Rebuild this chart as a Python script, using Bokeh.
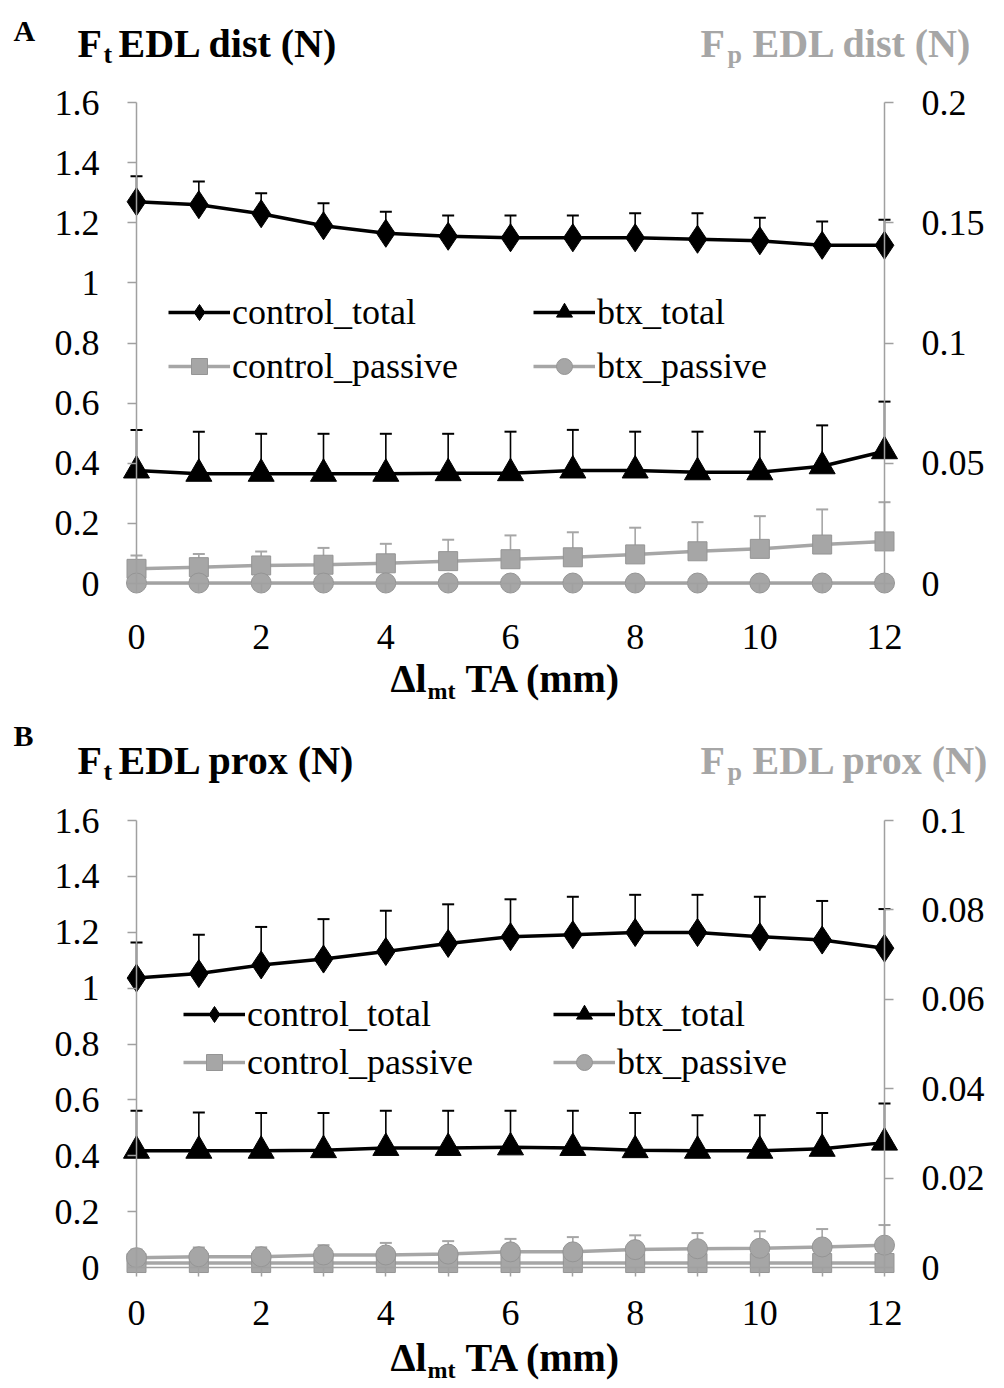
from bokeh.plotting import figure
from bokeh.models import (Range1d, LinearAxis, Whisker, ColumnDataSource, Label,
                          Legend, LegendItem, FixedTicker, TeeHead)
from bokeh.core.properties import value
from bokeh.layouts import column
from bokeh.embed import file_html
from bokeh.resources import INLINE

# ---------------- data ----------------
x_mm = [0, 1, 2, 3, 4, 5, 6, 7, 8, 9, 10, 11, 12]
x_major_ticks = [0, 2, 4, 6, 8, 10, 12]
x_minor_ticks = [1, 3, 5, 7, 9, 11]
left_ticks = [0, 0.2, 0.4, 0.6, 0.8, 1, 1.2, 1.4, 1.6]
left_tick_labels = ["0", "0.2", "0.4", "0.6", "0.8", "1", "1.2", "1.4", "1.6"]
A_right_ticks = [0, 0.05, 0.1, 0.15, 0.2]
A_right_tick_labels = ["0", "0.05", "0.1", "0.15", "0.2"]
B_right_ticks = [0, 0.02, 0.04, 0.06, 0.08, 0.1]
B_right_tick_labels = ["0", "0.02", "0.04", "0.06", "0.08", "0.1"]
series_names = ["control_total", "btx_total", "control_passive", "btx_passive"]

# Panel A (EDL dist)
A_control_total = [1.27, 1.26, 1.23, 1.19, 1.165, 1.155, 1.15, 1.15, 1.15, 1.145, 1.14, 1.125, 1.125]
A_control_total_sd = [0.085, 0.077, 0.068, 0.075, 0.072, 0.069, 0.074, 0.074, 0.082, 0.087, 0.077, 0.079, 0.085]
A_btx_total = [0.376, 0.365, 0.365, 0.365, 0.365, 0.367, 0.367, 0.376, 0.376, 0.370, 0.370, 0.390, 0.440]
A_btx_total_sd = [0.135, 0.140, 0.133, 0.133, 0.133, 0.131, 0.138, 0.135, 0.129, 0.135, 0.135, 0.136, 0.165]
A_control_passive = [0.0061, 0.0068, 0.0075, 0.0078, 0.0084, 0.0093, 0.0101, 0.0109, 0.0121, 0.0134, 0.0144, 0.0162, 0.0175]
A_control_passive_sd = [0.0055, 0.0055, 0.0058, 0.0070, 0.0081, 0.0089, 0.0099, 0.0104, 0.0111, 0.0121, 0.0136, 0.0146, 0.0163]
A_btx_passive = [0.0002, 0.0002, 0.0002, 0.0002, 0.0002, 0.0002, 0.0002, 0.0002, 0.0002, 0.0002, 0.0002, 0.0002, 0.0002]
A_btx_passive_sd = [0.0002, 0.0002, 0.0002, 0.0002, 0.0002, 0.0002, 0.0002, 0.0002, 0.0002, 0.0002, 0.0002, 0.0002, 0.0002]

# Panel B (EDL prox)
B_control_total = [1.036, 1.052, 1.083, 1.104, 1.131, 1.160, 1.184, 1.191, 1.199, 1.199, 1.184, 1.172, 1.143]
B_control_total_sd = [0.127, 0.139, 0.136, 0.143, 0.146, 0.140, 0.134, 0.136, 0.135, 0.135, 0.143, 0.140, 0.140]
B_btx_total = [0.418, 0.418, 0.418, 0.420, 0.428, 0.428, 0.430, 0.428, 0.420, 0.418, 0.418, 0.425, 0.447]
B_btx_total_sd = [0.143, 0.137, 0.135, 0.133, 0.133, 0.133, 0.131, 0.133, 0.133, 0.127, 0.127, 0.128, 0.140]
B_control_passive = [0.0010, 0.0010, 0.0010, 0.0010, 0.0010, 0.0010, 0.0010, 0.0010, 0.0010, 0.0010, 0.0010, 0.0010, 0.0010]
B_control_passive_sd = [0.0004, 0.0004, 0.0004, 0.0004, 0.0004, 0.0004, 0.0004, 0.0004, 0.0004, 0.0004, 0.0004, 0.0004, 0.0004]
B_btx_passive = [0.0022, 0.0024, 0.0024, 0.0028, 0.0028, 0.0030, 0.0035, 0.0035, 0.0040, 0.0042, 0.0043, 0.0046, 0.0050]
B_btx_passive_sd = [0.0018, 0.0021, 0.0021, 0.0022, 0.0027, 0.0029, 0.0029, 0.0033, 0.0032, 0.0035, 0.0038, 0.0040, 0.0045]

# ---------------- style / geometry ----------------
SERIF = "Liberation Serif"
AXIS_GRAY = "#a0a0a0"
SERIES_GRAY = "#a6a6a6"
MARKER_EDGE_GRAY = "#959595"
TITLE_GRAY = "#a6a6a6"
FIG_W = 1004
X0_REF = 136.0        # pixel of x = 0
XPX = 748.0 / 12.0    # pixels per mm
XMIN = -X0_REF / XPX
XMAX = (FIG_W - X0_REF) / XPX

STYLES = {
    "control_total": dict(color="black", marker="diamond", size=28, fill="black", edge="black", right=False),
    "btx_total": dict(color="black", marker="triangle", size=26, fill="black", edge="black", right=False),
    "control_passive": dict(color=SERIES_GRAY, marker="square", size=19, fill=SERIES_GRAY, edge=MARKER_EDGE_GRAY, right=True),
    "btx_passive": dict(color=SERIES_GRAY, marker="circle", size=20, fill=SERIES_GRAY, edge=MARKER_EDGE_GRAY, right=True),
}


def style_axis(ax, standoff):
    ax.axis_line_color = AXIS_GRAY
    ax.axis_line_width = 1.5
    ax.major_tick_line_color = AXIS_GRAY
    ax.major_tick_line_width = 1.5
    ax.major_tick_in = 0
    ax.major_tick_out = 9
    ax.minor_tick_line_color = None
    ax.major_label_text_font = SERIF
    ax.major_label_text_font_size = "36px"
    ax.major_label_text_color = "black"
    ax.major_label_standoff = standoff


def build_panel(geo, data, right_max, right_ticks, right_labels, texts, legend_pos):
    H = geo["height"]
    top_ref = geo["offset"]
    ytop = (geo["y0"] - top_ref) / geo["ypx"]
    ybot = (geo["y0"] - (top_ref + H)) / geo["ypx"]
    p = figure(width=FIG_W, height=H,
               x_range=Range1d(XMIN, XMAX), y_range=Range1d(ybot, ytop),
               output_backend="svg", toolbar_location=None,
               min_border=0, min_border_left=0, min_border_right=0,
               min_border_top=0, min_border_bottom=0,
               outline_line_color=None)
    p.grid.visible = False
    ratio = right_max / 1.6
    p.extra_y_ranges = {"right": Range1d(ybot * ratio, ytop * ratio)}

    xax = p.xaxis[0]
    style_axis(xax, geo["xstandoff"])
    xax.ticker = FixedTicker(ticks=x_major_ticks, minor_ticks=x_minor_ticks)
    xax.minor_tick_line_color = AXIS_GRAY
    xax.minor_tick_line_width = 1.5
    xax.minor_tick_in = 0
    xax.minor_tick_out = 9
    xax.fixed_location = 0
    xax.bounds = (0, 12)

    yax = p.yaxis[0]
    style_axis(yax, 28)
    yax.ticker = FixedTicker(ticks=left_ticks)
    yax.major_label_overrides = dict(zip(left_ticks, left_tick_labels))
    yax.fixed_location = 0
    yax.bounds = (0, 1.6)

    rax = LinearAxis(y_range_name="right")
    style_axis(rax, 28)
    rax.ticker = FixedTicker(ticks=right_ticks)
    rax.major_label_overrides = dict(zip(right_ticks, right_labels))
    rax.fixed_location = 12
    rax.bounds = (0, right_max)
    p.add_layout(rax, "right")

    rends = {}
    for name in series_names:
        st = STYLES[name]
        y, sd = data[name]
        upper = [a + b for a, b in zip(y, sd)]
        src = ColumnDataSource(dict(x=x_mm, y=y, upper=upper))
        rng = "right" if st["right"] else "default"
        w = Whisker(source=src, base="x", lower="y", upper="upper", dimension="height",
                    line_color=st["color"], line_width=1.6, lower_head=None,
                    upper_head=TeeHead(size=12, line_color=st["color"], line_width=2),
                    y_range_name=rng)
        p.add_layout(w)
        lr = p.line("x", "y", source=src, line_color=st["color"], line_width=3.5, y_range_name=rng)
        sr = p.scatter("x", "y", source=src, marker=st["marker"], size=st["size"],
                       fill_color=st["fill"], line_color=st["edge"], line_width=1,
                       y_range_name=rng)
        rends[name] = [lr, sr]

    for name, (lx, ly_ref) in zip(series_names, legend_pos):
        # ly_ref: page pixel of the legend row's bottom edge
        loc = (lx, top_ref + H - ly_ref)
        leg = Legend(items=[LegendItem(label=value(name), renderers=rends[name])],
                     location=loc, orientation="vertical", padding=0, margin=0, spacing=0,
                     border_line_color=None, background_fill_alpha=0,
                     glyph_width=62, glyph_height=40, label_height=40, label_standoff=2,
                     label_text_font=SERIF, label_text_font_size="36px",
                     label_text_color="black")
        p.add_layout(leg)

    for txt, rx, ry, size, color in texts:
        # ry is the desired baseline; the renderer places the text about a third
        # of an em lower than the given anchor, so compensate
        xd = (rx - X0_REF) / XPX
        yd = (geo["y0"] - (ry - 0.33 * size)) / geo["ypx"]
        p.add_layout(Label(x=xd, y=yd, text=txt, text_font=SERIF,
                           text_font_size=f"{size}px", text_font_style="bold",
                           text_color=color, text_baseline="alphabetic", text_align="left"))
    return p


def axis_title_texts(baseline):
    return [
        ("\u0394l", 390, baseline, 40, "black"),
        ("mt", 427, baseline + 7, 24, "black"),
        ("TA (mm)", 465, baseline, 40, "black"),
    ]


# Panel A geometry (page pixel coordinates)
geoA = dict(height=716, offset=0, y0=583.0, ypx=481.0 / 1.6, xstandoff=32)
textsA = [
    ("A", 13, 40, 30, "black"),
    ("F", 77, 56, 40, "black"),
    ("t", 103, 63, 26, "black"),
    ("EDL dist (N)", 118, 56, 40, "black"),
    ("F", 700, 56, 40, TITLE_GRAY),
    ("p", 727, 63, 26, TITLE_GRAY),
    ("EDL dist (N)", 752, 56, 40, TITLE_GRAY),
] + axis_title_texts(691)
legA = [(168, 333), (533, 333), (168, 387), (533, 387)]

pA = build_panel(geoA,
                 {"control_total": (A_control_total, A_control_total_sd),
                  "btx_total": (A_btx_total, A_btx_total_sd),
                  "control_passive": (A_control_passive, A_control_passive_sd),
                  "btx_passive": (A_btx_passive, A_btx_passive_sd)},
                 0.2, A_right_ticks, A_right_tick_labels, textsA, legA)

# Panel B geometry
geoB = dict(height=672, offset=716, y0=1267.0, ypx=447.0 / 1.6, xstandoff=24)
textsB = [
    ("B", 13, 745, 30, "black"),
    ("F", 77, 773, 40, "black"),
    ("t", 103, 780, 26, "black"),
    ("EDL prox (N)", 118, 773, 40, "black"),
    ("F", 700, 773, 40, TITLE_GRAY),
    ("p", 727, 780, 26, TITLE_GRAY),
    ("EDL prox (N)", 752, 773, 40, TITLE_GRAY),
] + axis_title_texts(1370)
legB = [(183, 1035), (553, 1035), (183, 1083), (553, 1083)]

pB = build_panel(geoB,
                 {"control_total": (B_control_total, B_control_total_sd),
                  "btx_total": (B_btx_total, B_btx_total_sd),
                  "control_passive": (B_control_passive, B_control_passive_sd),
                  "btx_passive": (B_btx_passive, B_btx_passive_sd)},
                 0.1, B_right_ticks, B_right_tick_labels, textsB, legB)

layout = column(pA, pB, spacing=0)
open("out.html", "w").write(file_html(layout, INLINE))
